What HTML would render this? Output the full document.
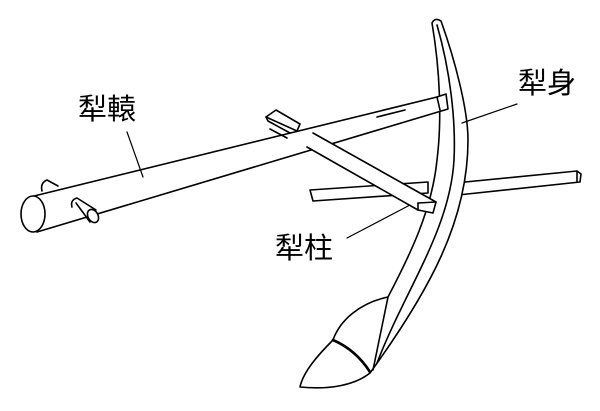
<!DOCTYPE html>
<html><head><meta charset="utf-8"><style>
html,body{margin:0;padding:0;background:#fff;}
svg{display:block}
text{font-family:"Liberation Sans","Noto Sans CJK TC",sans-serif;font-size:29px;fill:#000}
</style></head><body>
<svg width="600" height="411" viewBox="0 0 600 411" xmlns="http://www.w3.org/2000/svg">
<g fill="none" stroke="#000" stroke-width="1.6" stroke-linejoin="round" stroke-linecap="round">
<!-- crossbar left -->
<path d="M310,190 L428,182 L428,193 L313,201 Z" fill="#fff"/>
<!-- crossbar right -->
<path d="M455,183 L577,171 L581,174 L580,182 L458,195 Z" fill="#fff"/>
<line x1="577" y1="171" x2="577" y2="182"/>
<!-- plow body -->
<path d="M432,23 Q435,17 441,21 C455,60 468,110 468,140 C468,220 430,290 370,373 C355,385 330,390 300,387 C303,372 318,355 333,340 C340,320 360,303 388,297 C410,255 432,210 437,160 C442,120 440,70 432,23 Z" fill="#fff"/>
<path d="M437,25 C450,70 456,120 454,160 C450,230 405,290 377,363"/>
<path d="M388,297 L373,370"/>
<path d="M333,340 Q356,350 370,372" stroke-width="2.6"/>
<!-- beam -->
<path d="M30,197 L437,97 L446,94 L448,109 L37,232 Z" fill="#fff"/>
<line x1="437" y1="97" x2="440" y2="110"/>
<line x1="377" y1="117" x2="405" y2="110"/>
<ellipse cx="33" cy="214" rx="12" ry="18" fill="#fff"/>
<!-- pegs -->
<path d="M42,191 Q40,183 47,180 L58,186" fill="#fff"/>
<path d="M72,207 Q70,200 77,198 L96,210" />
<path d="M76,203 L90,222"/>
<ellipse cx="93" cy="216" rx="5" ry="7" transform="rotate(-30 93 216)" fill="#fff"/>
<!-- pillar top block -->
<path d="M266,117 L276,110 L300,124 L297,131 Z" fill="#fff"/>
<path d="M266,117 L268,121 L290,133"/>
<!-- pillar -->
<path d="M313,133 L436,202 L433,213 L418,210 L307,147" fill="#fff"/>
<path d="M270,129 L287,138"/>
<line x1="418" y1="203" x2="436" y2="202"/>
<line x1="418" y1="203" x2="418" y2="210"/>
<!-- leaders -->
<line x1="127" y1="132" x2="143" y2="177" stroke-width="1.2"/>
<line x1="517" y1="104" x2="462" y2="123" stroke-width="1.2"/>
<line x1="347" y1="238" x2="410" y2="205" stroke-width="1.2"/>
</g>
<text x="78" y="119">犁轅</text>
<text x="518" y="93">犁身</text>
<text x="275" y="258">犁柱</text>
</svg>
</body></html>
